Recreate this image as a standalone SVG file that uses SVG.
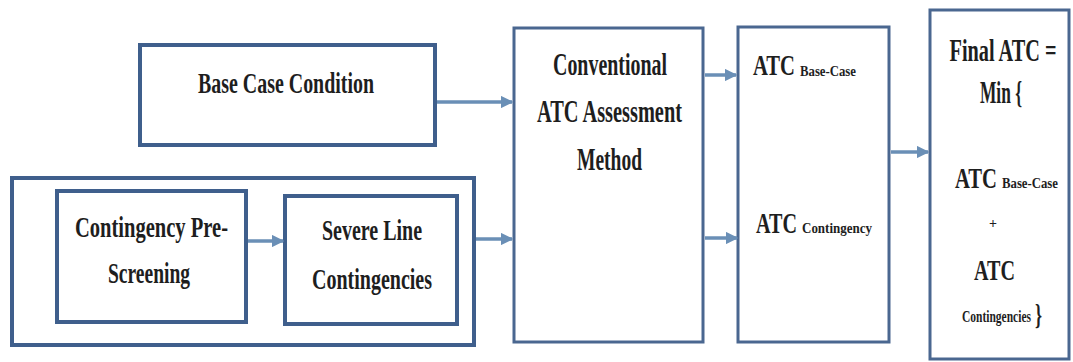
<svg xmlns="http://www.w3.org/2000/svg" width="1073" height="362" viewBox="0 0 1073 362">
<style>
.box{fill:#fff;stroke:#3f5f8c;stroke-width:4}
.thin{fill:#fff;stroke:#4a6790;stroke-width:3}
.t{font-family:"Liberation Serif","Times New Roman",serif;font-weight:bold;fill:#1e1e1e}
.c{stroke:#6a8fb6;stroke-width:3.5;fill:none}
</style>
<defs>
<marker id="ah" viewBox="0 0 10 10" refX="9" refY="5" markerWidth="3.6" markerHeight="3.6" orient="auto" markerUnits="strokeWidth">
<path d="M0,0 L10,5 L0,10 z" fill="#6a8fb6"/>
</marker>
</defs>
<rect width="1073" height="362" fill="#fff"/>
<g id="base-case">
<rect class="box" x="140" y="45" width="295" height="100"/>
<text class="t" x="286" y="93" font-size="29" text-anchor="middle" textLength="176" lengthAdjust="spacingAndGlyphs">Base Case Condition</text>
</g>
<g id="contingency-group">
<rect class="box" x="12" y="178" width="462" height="167"/>
</g>
<g id="pre-screening">
<rect class="box" x="57" y="191" width="189" height="131"/>
<text class="t" x="151.5" y="237" font-size="30" text-anchor="middle" textLength="153" lengthAdjust="spacingAndGlyphs">Contingency Pre-</text>
<text class="t" x="149" y="283" font-size="30" text-anchor="middle" textLength="82" lengthAdjust="spacingAndGlyphs">Screening</text>
</g>
<g id="severe-line">
<rect class="box" x="285" y="196" width="172" height="128"/>
<text class="t" x="372" y="240" font-size="30" text-anchor="middle" textLength="100" lengthAdjust="spacingAndGlyphs">Severe Line</text>
<text class="t" x="372" y="289" font-size="30" text-anchor="middle" textLength="120" lengthAdjust="spacingAndGlyphs">Contingencies</text>
</g>
<g id="conventional">
<rect class="thin" x="514" y="28" width="189" height="314"/>
<text class="t" x="610" y="75" font-size="31" text-anchor="middle" textLength="114" lengthAdjust="spacingAndGlyphs">Conventional</text>
<text class="t" x="609.5" y="122" font-size="31" text-anchor="middle" textLength="145" lengthAdjust="spacingAndGlyphs">ATC Assessment</text>
<text class="t" x="609.5" y="170" font-size="31" text-anchor="middle" textLength="65" lengthAdjust="spacingAndGlyphs">Method</text>
</g>
<g id="atc-results">
<rect class="thin" x="738" y="27" width="151" height="315"/>
<text class="t" x="753" y="75" font-size="30" textLength="42" lengthAdjust="spacingAndGlyphs">ATC</text>
<text class="t" x="800" y="76" font-size="14" textLength="56" lengthAdjust="spacingAndGlyphs">Base-Case</text>
<text class="t" x="756" y="233" font-size="30" textLength="41" lengthAdjust="spacingAndGlyphs">ATC</text>
<text class="t" x="802" y="233" font-size="14" textLength="70" lengthAdjust="spacingAndGlyphs">Contingency</text>
</g>
<g id="final-atc">
<rect class="thin" x="930" y="10" width="139" height="349"/>
<text class="t" x="1003" y="61" font-size="32" text-anchor="middle" textLength="107" lengthAdjust="spacingAndGlyphs">Final ATC =</text>
<text class="t" x="980" y="103" font-size="32" textLength="42" lengthAdjust="spacingAndGlyphs">Min {</text>
<text class="t" x="955" y="188" font-size="30" textLength="42" lengthAdjust="spacingAndGlyphs">ATC</text>
<text class="t" x="1002" y="188" font-size="14" textLength="56" lengthAdjust="spacingAndGlyphs">Base-Case</text>
<text class="t" x="993" y="228" font-size="14" text-anchor="middle">+</text>
<text class="t" x="994.5" y="280" font-size="30" text-anchor="middle" textLength="41" lengthAdjust="spacingAndGlyphs">ATC</text>
<text class="t" x="962" y="322" font-size="16" textLength="69" lengthAdjust="spacingAndGlyphs">Contingencies</text>
<text class="t" x="1035" y="325" font-size="30" textLength="7" lengthAdjust="spacingAndGlyphs">}</text>
</g>
<g id="connectors">
<line class="c" x1="437" y1="102" x2="512" y2="102" marker-end="url(#ah)"/>
<line class="c" x1="476" y1="239" x2="512" y2="239" marker-end="url(#ah)"/>
<line class="c" x1="248" y1="241" x2="283" y2="241" marker-end="url(#ah)"/>
<line class="c" x1="705" y1="75" x2="736" y2="75" marker-end="url(#ah)"/>
<line class="c" x1="705" y1="238" x2="737" y2="238" marker-end="url(#ah)"/>
<line class="c" x1="891" y1="152" x2="928" y2="152" marker-end="url(#ah)"/>
</g>
</svg>
